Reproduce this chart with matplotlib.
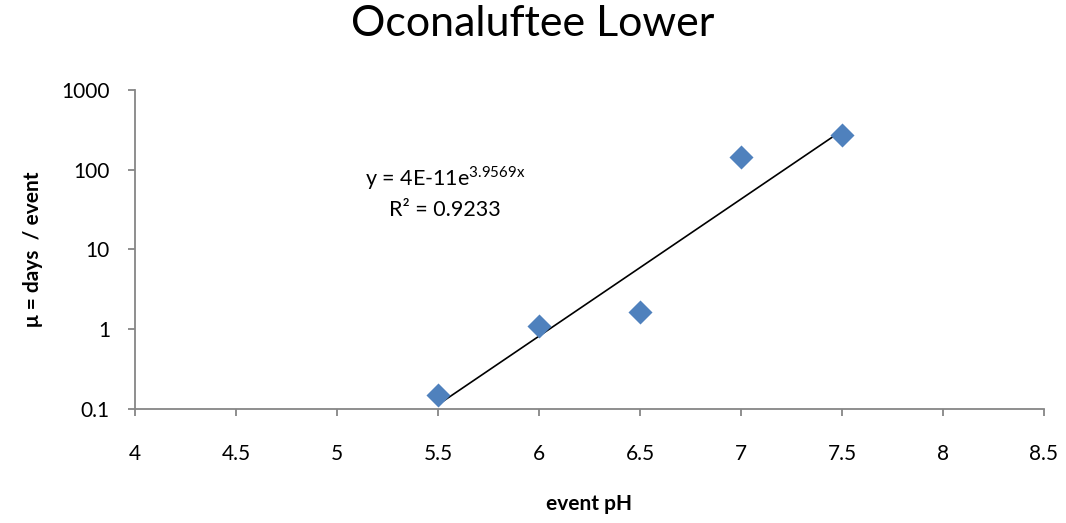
import numpy as np
import matplotlib.pyplot as plt

# data
ph = [5.5, 6.0, 6.5, 7.0, 7.5]
mu = [0.15, 1.1, 1.64, 143, 273]
fit_a = 4e-11
fit_b = 3.9569
r2 = 0.9233

plt.rcParams['font.family'] = ['Lato', 'DejaVu Sans']

fig = plt.figure(figsize=(10.66, 5.23), dpi=100)
ax = fig.add_axes([0.1266, 0.218, 0.8527, 0.610])

ax.scatter(ph, mu, marker='D', s=150, color='#4F81BD', zorder=3, linewidths=0)

xf = np.linspace(min(ph), max(ph), 100)
ax.plot(xf, fit_a * np.exp(fit_b * xf), color='black', lw=1.2, zorder=2)

ax.set_yscale('log')
ax.set_xlim(4, 8.5)
ax.set_ylim(0.1, 1000)
ax.set_xticks(np.arange(4, 8.51, 0.5))
ax.set_xticklabels(['4', '4.5', '5', '5.5', '6', '6.5', '7', '7.5', '8', '8.5'])
ax.set_yticks([0.1, 1, 10, 100, 1000])
ax.set_yticklabels(['0.1', '1', '10', '100', '1000'])
ax.minorticks_off()

for s in ['top', 'right']:
    ax.spines[s].set_visible(False)
for s in ['left', 'bottom']:
    ax.spines[s].set_color('#868686')
    ax.spines[s].set_linewidth(1.3)
ax.tick_params(axis='both', colors='#868686', length=5, width=1.3, labelsize=15,
               labelcolor='black')
ax.tick_params(axis='x', pad=20)
ax.tick_params(axis='y', pad=13)

ax.set_xlabel('event pH', fontsize=15, fontweight='bold', labelpad=22)
ax.set_ylabel('μ = days  / event', fontsize=15, fontweight='bold', labelpad=13)

fig.suptitle('Oconaluftee Lower', fontsize=31, y=0.99)

ax.text(0.341, 0.724, 'y = 4E-11e$^{\\mathregular{3.9569x}}$', transform=ax.transAxes,
        ha='center', va='center', fontsize=15.5)
ax.text(0.341, 0.624, 'R² = %.4f' % r2, transform=ax.transAxes,
        ha='center', va='center', fontsize=15.5)

fig.savefig('out.png', dpi=100)
